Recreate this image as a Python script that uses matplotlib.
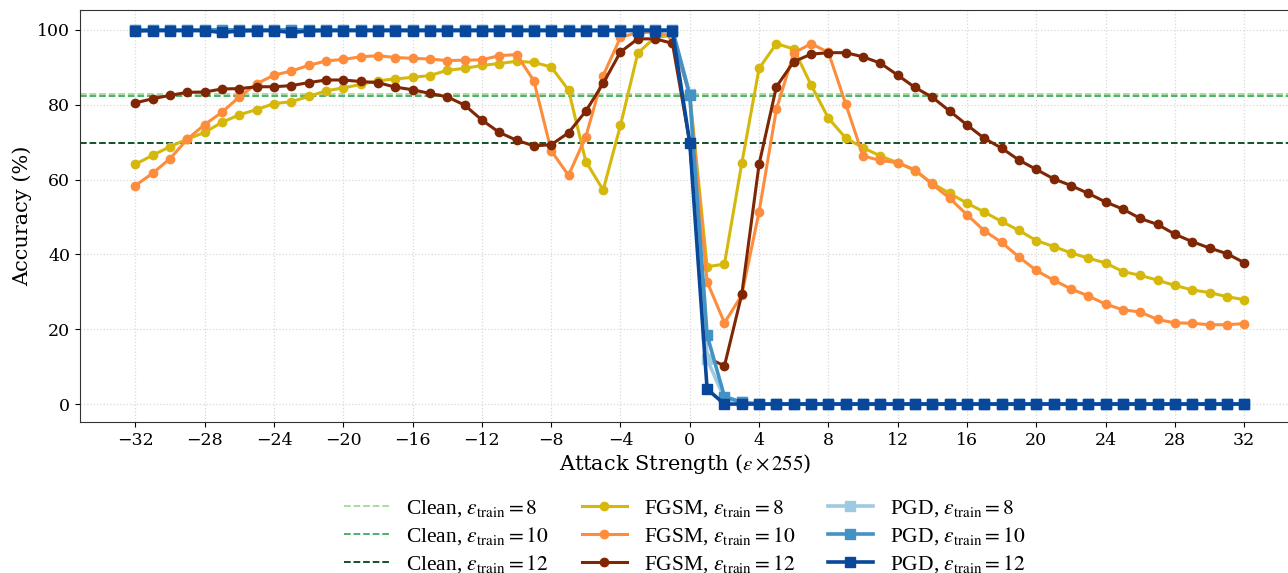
import matplotlib
matplotlib.use("Agg")
import matplotlib.pyplot as plt
import numpy as np

plt.rcParams['font.family'] = 'DejaVu Serif'
plt.rcParams['mathtext.fontset'] = 'stix'

eps = list(range(-32, 33))

clean_8 = 82.9
clean_10 = 82.3
clean_12 = 69.8

fgsm_8 = [64.1, 66.5, 68.8, 70.8, 72.6, 75.3, 77.3, 78.7, 80.3, 80.8, 82.2, 83.7, 84.5, 85.4, 86.4, 86.9,
          87.3, 87.8, 89.2, 89.7, 90.5, 91.0, 91.6, 91.3, 90.1, 83.9, 64.8, 57.2, 74.5, 93.8, 98.0, 98.5,
          82.9,
          36.7, 37.4, 64.3, 89.7, 96.3, 94.9, 85.3, 76.4, 71.1, 68.5, 66.3, 64.5, 62.4, 59.0, 56.3, 53.7,
          51.3, 48.8, 46.4, 43.7, 42.1, 40.4, 39.0, 37.7, 35.4, 34.4, 33.1, 31.7, 30.5, 29.8, 28.7, 27.9]
fgsm_10 = [58.4, 61.7, 65.6, 70.8, 74.7, 78.0, 82.1, 85.6, 87.9, 89.0, 90.5, 91.7, 92.1, 92.8, 93.1, 92.6,
           92.4, 92.2, 91.8, 91.9, 92.0, 93.1, 93.4, 86.4, 67.7, 61.1, 71.5, 87.8, 98.0, 99.3, 99.3, 98.3,
           82.3,
           32.7, 21.7, 29.1, 51.4, 78.8, 93.8, 96.3, 94.0, 80.2, 66.3, 65.1, 64.5, 62.6, 58.7, 55.0, 50.6,
           46.3, 43.2, 39.3, 35.7, 33.1, 30.8, 28.9, 26.7, 25.2, 24.6, 22.6, 21.7, 21.6, 21.2, 21.2, 21.5]
fgsm_12 = [80.5, 81.6, 82.5, 83.3, 83.4, 84.2, 84.3, 84.8, 84.8, 85.1, 85.9, 86.6, 86.6, 86.2, 85.9, 84.7,
           84.0, 83.0, 82.1, 79.9, 75.9, 72.6, 70.5, 69.0, 69.3, 72.5, 78.3, 85.7, 94.1, 97.6, 97.6, 96.4,
           69.8,
           12.4, 10.2, 29.3, 64.1, 84.8, 91.5, 93.5, 93.9, 93.9, 92.8, 91.1, 87.9, 84.6, 82.0, 78.3, 74.6,
           71.0, 68.4, 65.2, 62.7, 60.2, 58.4, 56.3, 54.0, 52.1, 49.6, 48.0, 45.4, 43.4, 41.7, 40.2, 37.8]

pgd_8 = [100.0] * 32 + [82.9, 12.0, 1.5, 0.5] + [0.0] * 29
pgd_10 = [100.0] * 32 + [82.5, 18.4, 2.0, 0.5] + [0.0] * 29
pgd_12 = [99.7, 99.8, 99.8, 99.8, 99.8, 99.3, 99.7, 99.8, 99.8, 99.3, 99.7, 99.8, 99.8, 99.8, 99.8, 99.8,
          99.8, 99.8, 99.8, 99.8, 99.8, 99.8, 99.8, 99.8, 99.8, 99.8, 99.8, 99.8, 99.8, 99.8, 99.8, 99.8,
          69.8, 4.0, 0.0, 0.0] + [0.0] * 29

fig = plt.figure(figsize=(12.88, 5.73), dpi=100)
ax = fig.add_axes([0.0621, 0.2635, 0.9395, 0.719])

ax.axhline(clean_8, color='#a1d99b', ls='--', lw=1.3, label=r'Clean, $\epsilon_{\rm train}=8$')
ax.axhline(clean_10, color='#41ab5d', ls='--', lw=1.3, label=r'Clean, $\epsilon_{\rm train}=10$')
ax.axhline(clean_12, color='#00441b', ls='--', lw=1.3, label=r'Clean, $\epsilon_{\rm train}=12$')

ax.plot(eps, fgsm_8, color='#d6b80c', lw=2.2, marker='o', ms=6, label=r'FGSM, $\epsilon_{\rm train}=8$')
ax.plot(eps, fgsm_10, color='#fd8d3c', lw=2.2, marker='o', ms=6, label=r'FGSM, $\epsilon_{\rm train}=10$')
ax.plot(eps, fgsm_12, color='#7f2704', lw=2.2, marker='o', ms=6, label=r'FGSM, $\epsilon_{\rm train}=12$')

ax.plot(eps, pgd_8, color='#9ecae1', lw=2.6, marker='s', ms=6.5, label=r'PGD, $\epsilon_{\rm train}=8$')
ax.plot(eps, pgd_10, color='#4292c6', lw=2.6, marker='s', ms=6.5, label=r'PGD, $\epsilon_{\rm train}=10$')
ax.plot(eps, pgd_12, color='#08479a', lw=2.6, marker='s', ms=6.5, label=r'PGD, $\epsilon_{\rm train}=12$')

ax.set_xlim(-35.2, 34.65)
ax.set_ylim(-4.8, 105.3)
ax.set_xticks(range(-32, 33, 4))
ax.set_yticks(range(0, 101, 20))
ax.tick_params(labelsize=12.5, length=3.5)
ax.grid(True, ls=':', color='#d9d9d9', lw=0.9)
ax.set_axisbelow(True)
for s in ax.spines.values():
    s.set_color('#333333')
ax.spines['right'].set_visible(False)

ax.set_xlabel(r'Attack Strength ($\epsilon\times255$)', fontsize=15, labelpad=2)
ax.set_ylabel('Accuracy (%)', fontsize=15)

ax.legend(loc='upper center', bbox_to_anchor=(0.5, -0.147), ncol=3, frameon=False,
          prop={'family': 'Liberation Serif', 'size': 15.5}, handlelength=2.1,
          columnspacing=1.5, labelspacing=0.3, borderpad=0.2)

fig.savefig('out.png', dpi=100)
